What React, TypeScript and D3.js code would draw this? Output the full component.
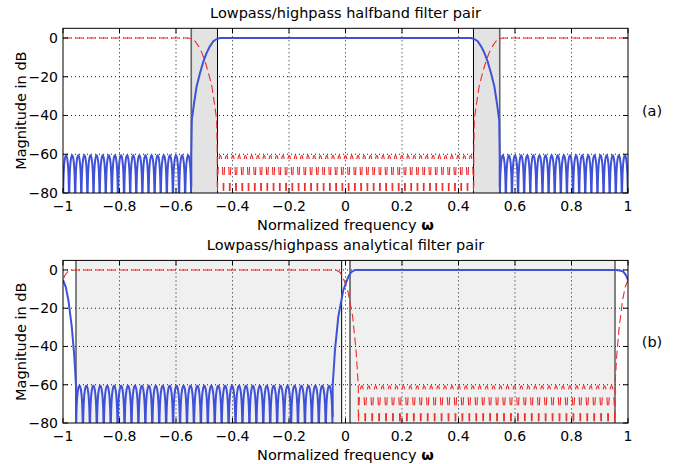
import React from 'react';
import * as d3 from 'd3';

type Pt = [number, number];

// axes
const xTicks = [-1, -0.8, -0.6, -0.4, -0.2, 0, 0.2, 0.4, 0.6, 0.8, 1];
const yTicks = [0, -20, -40, -60, -80];
const gridX = [-0.8, -0.6, -0.4, -0.2, 0, 0.2, 0.4, 0.6, 0.8];
const gridY = [0, -20, -40, -60];

// stopband lobes (offset in dB from the lobe peak, t = position inside one lobe)
const stopPeak = -60.5;
const lobeShape: Pt[] = [[0, -45], [0.01, -32], [0.025, -22], [0.05, -16], [0.1, -10.2], [0.15, -7], [0.2, -4.6], [0.3, -1.9], [0.4, -0.5], [0.5, 0]];

// (a) halfband lowpass, right-hand transition (left side is the mirror)
const halfbandBands: Pt[] = [[-0.546, -0.453], [0.453, 0.546]];
const halfbandTransition: Pt[] = [[0.444, 0], [0.456, -0.5], [0.468, -1.7], [0.48, -4.3], [0.492, -7.8], [0.503, -12.1], [0.515, -18.1], [0.527, -25], [0.536, -33.6], [0.544, -42.2], [0.546, -60.5], [0.546, -77]];
const halfbandLowStop: [number, number, number][] = [[-1, -0.546, 21], [0.546, 1, 21]];
const halfbandHighStop: [number, number, number][] = [[-0.454, 0.454, 41]];

// (b) analytical pair, positive-frequency filter (the other one is the mirror)
const analyticBands: Pt[] = [[-0.954, -0.0136], [0.0159, 0.954]];
const analyticEdge: Pt[] = [[-1, -5.2], [-0.99, -9], [-0.981, -15.7], [-0.969, -29.6], [-0.96, -45], [-0.954, -60.5], [-0.954, -77]];
const analyticRise: Pt[] = [[-0.0454, -77], [-0.0454, -60.5], [-0.0372, -41.8], [-0.0254, -24.4], [-0.0077, -10.5], [0.01, -3.5], [0.02, -1.2], [0.034, 0]];
const analyticFall: Pt[] = [[0.96, 0], [0.975, -0.4], [0.983, -0.9], [0.992, -2.5], [1, -5.2]];
const analyticStop: [number, number, number][] = [[-0.954, -0.0454, 37]];

const BLUE = '#3f51d6';
const RED = '#ec2a2a';
const FONT = 'DejaVu Sans, sans-serif';

const x = d3.scaleLinear().domain([-1, 1]).range([63, 628]);
const mirror = (pts: Pt[]): Pt[] => pts.map(([w, d]) => [-w, d] as Pt);
const fmt = (v: number) => (v < 0 ? '\u2212' : '') + Math.abs(v);

function lobeRun(a: number, b: number, n: number): Pt[] {
  const w = (b - a) / n;
  const pts: Pt[] = [];
  d3.range(n).forEach(i => {
    const s = a + i * w;
    lobeShape.forEach(([t, o]) => pts.push([s + t * w, stopPeak + o]));
    lobeShape.slice(0, -1).reverse().forEach(([t, o]) => pts.push([s + (1 - t) * w, stopPeak + o]));
  });
  return pts;
}

// each lobe as two legs going down from its peak, so the dash pattern repeats per lobe
function lobeLegs(a: number, b: number, n: number): Pt[][] {
  const w = (b - a) / n;
  const legs: Pt[][] = [];
  const down = lobeShape.slice().reverse();
  d3.range(n).forEach(i => {
    const s = a + i * w;
    legs.push(down.map(([t, o]) => [s + t * w, stopPeak + o] as Pt));
    legs.push(down.map(([t, o]) => [s + (1 - t) * w, stopPeak + o] as Pt));
  });
  return legs;
}

interface PanelProps {
  id: string;
  yBottom: number;
  yTop: number;
  title: string;
  titleY: number;
  tickY: number;
  labelY: number;
  tag: string;
  bands: Pt[];
  bandFill: string;
  gridOverBands: boolean;
  edges: [number, string, number][];
  blue: Pt[][];
  red: Pt[][];
  redLegs: Pt[][];
}

function Panel(p: PanelProps) {
  const y = d3.scaleLinear().domain([-80, 5]).range([p.yBottom, p.yTop]);
  const line = d3.line<Pt>().x(d => x(d[0])).y(d => y(d[1]));
  const left = x(-1), right = x(1), top = y(5), bottom = y(-80);
  const clip = `clip-${p.id}`;
  const grid = (
    <g stroke="#000" strokeWidth={0.9} strokeDasharray="1,3">
      {gridX.map(v => <line key={'gx' + v} x1={x(v)} x2={x(v)} y1={top} y2={bottom} />)}
      {gridY.map(v => <line key={'gy' + v} x1={left} x2={right} y1={y(v)} y2={y(v)} />)}
    </g>
  );
  const midY = (top + bottom) / 2;
  return (
    <g>
      <defs>
        <clipPath id={clip}>
          <rect x={left} y={top} width={right - left} height={bottom - top} />
        </clipPath>
      </defs>
      <rect x={left} y={top} width={right - left} height={bottom - top} fill="#fff" />
      {!p.gridOverBands && grid}
      {p.bands.map(([a, b], i) => (
        <rect key={'b' + i} x={x(a)} y={top} width={x(b) - x(a)} height={bottom - top} fill={p.bandFill} />
      ))}
      {p.gridOverBands && grid}
      {p.edges.map(([v, c, sw], i) => (
        <line key={'e' + i} x1={x(v)} x2={x(v)} y1={top} y2={bottom} stroke={c} strokeWidth={sw} />
      ))}
      <g clipPath={`url(#${clip})`} fill="none">
        {p.blue.map((pts, i) => (
          <path key={'bl' + i} d={line(pts) || ''} stroke={BLUE} strokeWidth={2} strokeLinejoin="round" />
        ))}
        {p.red.map((pts, i) => (
          <path key={'r' + i} d={line(pts) || ''} stroke={RED} strokeWidth={1.1} strokeDasharray="8,4" />
        ))}
        {p.redLegs.map((pts, i) => (
          <path key={'rl' + i} d={line(pts) || ''} stroke={RED} strokeWidth={1.1} strokeDasharray="8,8" strokeDashoffset={4} />
        ))}
      </g>
      <g stroke="#000" strokeWidth={1}>
        {xTicks.map(v => (
          <g key={'xt' + v}>
            <line x1={x(v)} x2={x(v)} y1={bottom} y2={bottom - 5} />
            <line x1={x(v)} x2={x(v)} y1={top} y2={top + 5} />
          </g>
        ))}
        {yTicks.map(v => (
          <g key={'yt' + v}>
            <line x1={left} x2={left + 5} y1={y(v)} y2={y(v)} />
            <line x1={right} x2={right - 5} y1={y(v)} y2={y(v)} />
          </g>
        ))}
        <rect x={left} y={top} width={right - left} height={bottom - top} fill="none" />
      </g>
      <g fontFamily={FONT} fontSize={14} fill="#000">
        {xTicks.map(v => (
          <text key={'xl' + v} x={x(v)} y={p.tickY} textAnchor="middle">{fmt(v)}</text>
        ))}
        {yTicks.map(v => (
          <text key={'yl' + v} x={left - 5} y={y(v)} dy="0.35em" textAnchor="end">{fmt(v)}</text>
        ))}
      </g>
      <g fontFamily={FONT} fontSize={14.5} fill="#000">
        <text x={(left + right) / 2} y={p.titleY} textAnchor="middle">{p.title}</text>
        <text x={(left + right) / 2} y={p.labelY} textAnchor="middle">
          Normalized frequency <tspan fontWeight="bold">ω</tspan>
        </text>
        <text transform={`translate(26,${midY}) rotate(-90)`} textAnchor="middle">Magnitude in dB</text>
        <text x={652} y={midY} dy="0.35em" textAnchor="middle">{p.tag}</text>
      </g>
    </g>
  );
}

export default function App() {
  // (a) lowpass and its complementary highpass
  const aBlue: Pt[][] = [
    [...mirror(halfbandTransition).reverse(), ...halfbandTransition],
    ...halfbandLowStop.map(([a, b, n]) => lobeRun(a, b, n)),
  ];
  const redLeft: Pt[] = [[-1, 0], ...halfbandTransition.map(([w, d]) => [w - 1, d] as Pt)];
  const aRed: Pt[][] = [redLeft, mirror(redLeft)];
  const aRedLegs = halfbandHighStop.flatMap(([a, b, n]) => lobeLegs(a, b, n));

  // (b) analytical pair
  const bBlue: Pt[][] = [
    analyticEdge,
    ...analyticStop.map(([a, b, n]) => lobeRun(a, b, n)),
    [...analyticRise, ...analyticFall],
  ];
  const bRed: Pt[][] = bBlue.slice(0, 1).concat(bBlue.slice(2)).map(mirror);
  const bRedLegs = analyticStop.flatMap(([a, b, n]) => lobeLegs(-b, -a, n));

  return (
    <svg width={684} height={464} style={{ position: 'absolute', left: 0, top: 0, background: '#fff' }}>
      <Panel
        id="a"
        yBottom={193}
        yTop={28.3}
        title="Lowpass/highpass halfband filter pair"
        titleY={18}
        tickY={211}
        labelY={230}
        tag="(a)"
        bands={halfbandBands}
        bandFill="#e3e3e3"
        gridOverBands={false}
        edges={[[-0.546, '#666', 1.6], [-0.453, '#000', 1], [0.453, '#000', 1], [0.546, '#666', 1.6]]}
        blue={aBlue}
        red={aRed}
        redLegs={aRedLegs}
      />
      <Panel
        id="b"
        yBottom={423}
        yTop={260.4}
        title="Lowpass/highpass analytical filter pair"
        titleY={249.5}
        tickY={441}
        labelY={460}
        tag="(b)"
        bands={analyticBands}
        bandFill="#f0f0f0"
        gridOverBands={true}
        edges={[[-0.954, '#444', 1.3], [-0.0136, '#000', 1], [0.0159, '#000', 1], [0.954, '#444', 1.3]]}
        blue={bBlue}
        red={bRed}
        redLegs={bRedLegs}
      />
    </svg>
  );
}
